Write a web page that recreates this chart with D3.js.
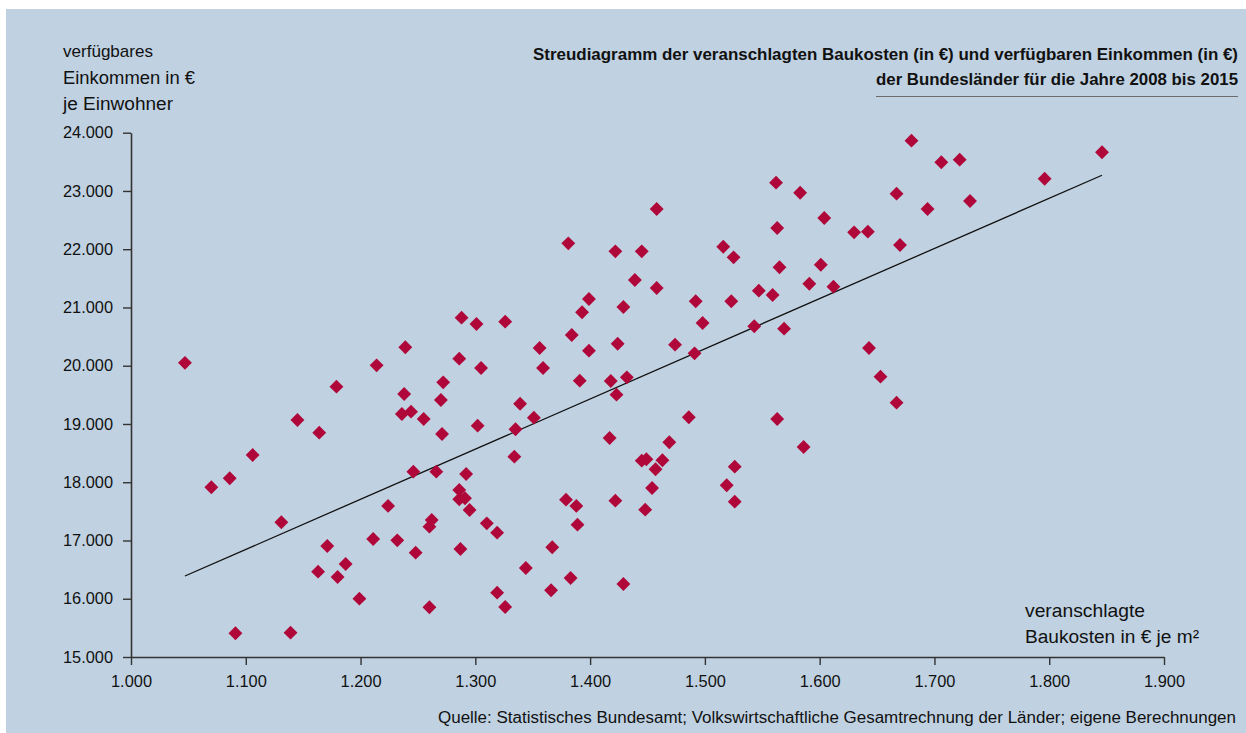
<!DOCTYPE html>
<html><head><meta charset="utf-8">
<script src="https://cdn.jsdelivr.net/npm/d3@7"></script>
<style>
html,body{margin:0;padding:0;background:#fff;}
svg{display:block;}
text{font-family:"Liberation Sans","Arial",sans-serif;fill:#111;}
</style></head>
<body><svg id="chart" width="1246" height="733"></svg>
<script>
// Data: estimated building costs (€/m²) and disposable income (€ per inhabitant)
const baukosten = [1047,1070,1086,1091,1106,1131,1139,1145,1163,1164,1171,1179,1180,1187,1199,1211,1214,1224,1232,1236,1238,1239,1244,1246,1248,1255,1260,1260,1262,1266,1270,1271,1272,1286,1286,1287,1288,1286,1291,1292,1295,1301,1302,1305,1310,1319,1319,1326,1326,1334,1335,1339,1344,1351,1356,1359,1366,1367,1379,1381,1383,1384,1388,1389,1391,1393,1399,1399,1417,1418,1422,1422,1423,1424,1429,1429,1432,1439,1445,1445,1448,1449,1454,1457,1458,1458,1463,1469,1474,1486,1491,1492,1498,1516,1519,1523,1525,1526,1526,1543,1547,1559,1562,1563,1563,1565,1569,1583,1586,1591,1601,1604,1612,1630,1642,1643,1653,1667,1667,1670,1680,1694,1706,1722,1731,1796,1846];
const einkommen = [20050,17913,18068,15407,18468,17313,15418,19069,16465,18851,16906,19640,16374,16597,16001,17026,20007,17593,17003,19172,19515,20317,19211,18181,16791,19086,15854,17237,17352,18181,19412,18828,19715,20121,17708,16854,20825,17867,17725,18142,17524,20716,18971,19961,17295,17134,16104,20756,15859,18439,18909,19348,16528,19108,20304,19961,16145,16884,17701,22101,16357,20528,17593,17272,19743,20917,21146,20258,18760,19738,21964,17684,19503,20378,21008,16253,19801,21472,21964,18370,17529,18394,17901,18222,22690,21334,18377,18686,20361,19115,20213,21106,20733,22043,17948,21106,21861,18267,17666,20677,21288,21214,23142,22364,19086,21690,20636,22970,18605,21408,21734,22536,21357,22290,22301,20304,19812,22953,19366,22072,23863,22690,23492,23537,22828,23210,23664];
// Trend line endpoints
const trendX = [1047, 1846];
const trendY = [16390, 23270];
// Ticks
const xTicks = [1000,1100,1200,1300,1400,1500,1600,1700,1800,1900];
const yTicks = [15000,16000,17000,18000,19000,20000,21000,22000,23000,24000];
const titleLines = ["Streudiagramm der veranschlagten Baukosten (in €) und verfügbaren Einkommen (in €)","der Bundesländer für die Jahre 2008 bis 2015"];
const yLabelLines = ["verfügbares","Einkommen in €","je Einwohner"];
const xLabelLines = ["veranschlagte","Baukosten in € je m²"];
const sourceText = "Quelle: Statistisches Bundesamt; Volkswirtschaftliche Gesamtrechnung der Länder; eigene Berechnungen";

const svg = d3.select("#chart");
svg.append("rect").attr("x",6).attr("y",9).attr("width",1240).attr("height",724).attr("fill","#c0d1e1");

const x = d3.scaleLinear().domain([1000,1900]).range([131,1164]);
const y = d3.scaleLinear().domain([15000,24000]).range([657,132.7]);
const fmt = d => d3.format(",")(d).replace(/,/g,".");

// fit a text to a target width: shrink font if its natural width is larger, then set exact length
function fit(sel, w){
  sel.each(function(){
    const t = d3.select(this);
    const w0 = this.getComputedTextLength();
    const target = typeof w === "function" ? w.apply(this, arguments) : w;
    if (w0 > target) {
      const fs = parseFloat(t.attr("font-size"));
      t.attr("font-size", (fs * target / w0 * 0.995).toFixed(2));
    }
    t.attr("textLength", target).attr("lengthAdjust","spacingAndGlyphs");
  });
}

// Y axis
const gy = svg.append("g").attr("transform","translate(131,0)")
  .call(d3.axisLeft(y).tickValues(yTicks).tickFormat(fmt).tickSize(8).tickPadding(10).tickSizeOuter(0));
gy.select(".domain").attr("stroke","#333").attr("stroke-width",1.6);
gy.selectAll(".tick line").attr("stroke","#333").attr("stroke-width",1.4);
gy.selectAll(".tick text").attr("font-size",18).attr("fill","#111").attr("font-family",null).call(fit,50);

// X axis
const gx = svg.append("g").attr("transform","translate(0,657)")
  .call(d3.axisBottom(x).tickValues(xTicks).tickFormat(fmt).tickSize(8).tickPadding(10).tickSizeOuter(0));
gx.select(".domain").attr("stroke","#333").attr("stroke-width",1.6);
gx.selectAll(".tick line").attr("stroke","#333").attr("stroke-width",1.4);
gx.selectAll(".tick text").attr("font-size",18).attr("fill","#111").attr("font-family",null).call(fit,41);

// Trend line
svg.append("line")
  .attr("x1",x(trendX[0])).attr("y1",y(trendY[0]))
  .attr("x2",x(trendX[1])).attr("y2",y(trendY[1]))
  .attr("stroke","#111").attr("stroke-width",1.3);

// Points
const pts = baukosten.map((b,i)=>({b, e: einkommen[i]}));
svg.append("g").selectAll("path").data(pts).join("path")
  .attr("d", d3.symbol().type(d3.symbolSquare).size(96))
  .attr("transform", d => `translate(${x(d.b)},${y(d.e)}) rotate(45)`)
  .attr("fill","#b0073a");

// Y label
const yLabW = [90,132,110];
svg.append("g").selectAll("text").data(yLabelLines).join("text")
  .attr("x",63).attr("y",(d,i)=>57+i*26.5).attr("font-size",20).text(d=>d)
  .call(fit,(d,i)=>yLabW[i]);

// Title
const titleW = [705,362];
const titleStart = [533,876];
svg.append("g").selectAll("text").data(titleLines).join("text")
  .attr("x",(d,i)=>titleStart[i]).attr("y",(d,i)=>60+i*25).attr("font-weight","bold").attr("font-size",18).text(d=>d)
  .call(fit,(d,i)=>titleW[i]);
svg.append("line").attr("x1",876).attr("x2",1238).attr("y1",96.5).attr("y2",96.5)
  .attr("stroke","#6b6b6b").attr("stroke-width",1.2);

// X label
const xLabW = [120,174];
svg.append("g").selectAll("text").data(xLabelLines).join("text")
  .attr("x",1025).attr("y",(d,i)=>617+i*26).attr("font-size",20).text(d=>d)
  .call(fit,(d,i)=>xLabW[i]);

// Source
svg.append("text").attr("x",438).attr("y",723).attr("font-size",16).text(sourceText).call(fit,798);
</script></body></html>
